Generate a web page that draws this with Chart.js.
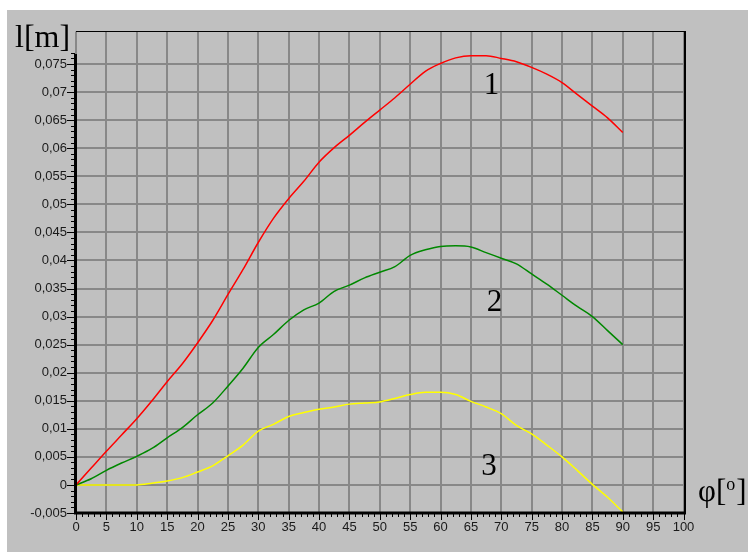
<!DOCTYPE html>
<html>
<head>
<meta charset="utf-8">
<script src="https://cdn.jsdelivr.net/npm/chart.js@4/dist/chart.umd.min.js"></script>
<style>
  html, body { margin: 0; padding: 0; background: #ffffff; }
  #chart { position: absolute; left: 7px; top: 10px; background: #c0c0c0; }
</style>
</head>
<body>
<canvas id="chart" width="741" height="542"></canvas>
<script>
// angle phi [deg], every 2.5 deg
const phi = [0, 2.5, 5, 7.5, 10, 12.5, 15, 17.5, 20, 22.5, 25, 27.5, 30, 32.5, 35, 37.5, 40, 42.5, 45, 47.5,
             50, 52.5, 55, 57.5, 60, 62.5, 65, 67.5, 70, 72.5, 75, 77.5, 80, 82.5, 85, 87.5, 90];
// l [m] for the three curves
const curve1 = [0, 0.0030, 0.0060, 0.0089, 0.0118, 0.0150, 0.0184, 0.0216, 0.0253, 0.0293, 0.0339, 0.0384, 0.0432, 0.0475, 0.0510, 0.0541, 0.0575, 0.0601, 0.0623, 0.0646,
                0.0668, 0.0690, 0.0714, 0.0737, 0.0751, 0.0761, 0.0765, 0.0765, 0.0760, 0.0754, 0.0744, 0.0732, 0.0717, 0.0696, 0.0675, 0.0654, 0.0628];
const curve2 = [0, 0.0011, 0.0026, 0.0039, 0.0051, 0.0065, 0.0084, 0.0102, 0.0125, 0.0146, 0.0176, 0.0208, 0.0245, 0.0268, 0.0293, 0.0312, 0.0324, 0.0345, 0.0356, 0.0369,
                0.0379, 0.0389, 0.0409, 0.0419, 0.0425, 0.0426, 0.0424, 0.0414, 0.0404, 0.0394, 0.0376, 0.0358, 0.0338, 0.0318, 0.0300, 0.0275, 0.0250];
const curve3 = [0, 0, 0, 0, 0, 0.0003, 0.0007, 0.0013, 0.0023, 0.0034, 0.0052, 0.0071, 0.0096, 0.0108, 0.0122, 0.0129, 0.0135, 0.0139, 0.0144, 0.0146,
                0.0148, 0.0154, 0.0161, 0.0165, 0.0165, 0.0161, 0.0149, 0.0139, 0.0127, 0.0106, 0.0091, 0.0071, 0.0050, 0.0026, 0.0001, -0.0022, -0.0048];

const yTicks = [-0.005, 0, 0.005, 0.01, 0.015, 0.02, 0.025, 0.03, 0.035, 0.04, 0.045, 0.05, 0.055, 0.06, 0.065, 0.07, 0.075];
const curveNames = ['1', '2', '3'];
const curveColors = ['#ff0000', '#008800', '#ffff00'];

const toPoints = (ys) => phi.map((x, i) => ({ x: x, y: ys[i] }));

const fmt = (v) => {
    const s = String(Number(v.toFixed(3)));
    return s === '-0' ? '0' : s.replace('.', ',');
};

// axis lines, minor ticks and the texts drawn straight on the canvas
const decor = {
    id: 'decor',
    afterDraw(chart) {
        const ctx = chart.ctx;
        const a = chart.chartArea;
        const xs = chart.scales.x;
        const ys = chart.scales.y;
        ctx.save();
        ctx.strokeStyle = '#000';

        // y ticks
        ctx.lineWidth = 1;
        for (let i = -5; i <= 77; i++) {
            const py = Math.round(ys.getPixelForValue(i / 1000)) + 0.5;
            const major = i % 5 === 0;
            ctx.beginPath();
            ctx.moveTo(a.left - (major ? 9 : 5), py);
            ctx.lineTo(a.left - 1, py);
            ctx.stroke();
        }
        // x ticks
        for (let i = 0; i <= 100; i++) {
            const px = Math.round(xs.getPixelForValue(i)) + 0.5;
            const major = i % 5 === 0;
            ctx.beginPath();
            ctx.moveTo(px, a.bottom + 1);
            ctx.lineTo(px, a.bottom + (major ? 7 : 4));
            ctx.stroke();
        }

        // frame
        ctx.lineWidth = 1;
        ctx.beginPath();
        ctx.moveTo(a.left, a.top);
        ctx.lineTo(a.right + 2.5, a.top);
        ctx.stroke();
        ctx.lineWidth = 2;
        ctx.beginPath();
        ctx.moveTo(a.right + 1.5, a.top);
        ctx.lineTo(a.right + 1.5, a.bottom);
        ctx.stroke();
        ctx.lineWidth = 3;
        ctx.beginPath();
        ctx.moveTo(a.left - 0.5, a.top + 22.5);
        ctx.lineTo(a.left - 0.5, a.bottom + 1);
        ctx.stroke();
        ctx.beginPath();
        ctx.moveTo(a.left - 2, a.bottom);
        ctx.lineTo(a.right + 2.5, a.bottom);
        ctx.stroke();

        // axis titles
        ctx.fillStyle = '#000';
        ctx.textBaseline = 'alphabetic';
        ctx.textAlign = 'left';
        ctx.font = '32px "Liberation Serif", "Times New Roman", serif';
        ctx.fillText('l[m]', 8, 37);

        ctx.font = '31px "Liberation Serif", "Times New Roman", serif';
        let tx = 691;
        ctx.fillText('φ[', tx, 491);
        tx += ctx.measureText('φ[').width;
        ctx.font = '18px "Liberation Serif", "Times New Roman", serif';
        ctx.fillText('o', tx, 480);
        tx += ctx.measureText('o').width + 1;
        ctx.font = '31px "Liberation Serif", "Times New Roman", serif';
        ctx.fillText(']', tx, 491);

        // curve numbers
        const marks = [[68.4, 0.0696], [68.9, 0.0310], [68.0, 0.0018]];
        ctx.font = '31px "Liberation Serif", "Times New Roman", serif';
        ctx.textAlign = 'center';
        curveNames.forEach((n, i) => {
            ctx.fillText(n, xs.getPixelForValue(marks[i][0]), ys.getPixelForValue(marks[i][1]));
        });
        ctx.restore();
    }
};

const ctx = document.getElementById('chart').getContext('2d');
new Chart(ctx, {
    type: 'line',
    data: {
        datasets: [curve1, curve2, curve3].map((ys, i) => ({
            label: curveNames[i],
            data: toPoints(ys),
            borderColor: curveColors[i],
            borderWidth: 1.5,
            pointRadius: 0,
            fill: false,
            cubicInterpolationMode: 'monotone',
        })),
    },
    options: {
        responsive: false,
        animation: false,
        devicePixelRatio: 1,
        layout: { padding: { left: 0, right: 64.5, top: 21.5, bottom: 9 } },
        plugins: { legend: { display: false }, tooltip: { enabled: false } },
        scales: {
            x: {
                type: 'linear',
                min: 0,
                max: 100,
                ticks: {
                    stepSize: 5,
                    padding: 7,
                    color: '#1a1a1a',
                    font: { family: '"Liberation Sans", Arial, sans-serif', size: 13 },
                    maxRotation: 0,
                    autoSkip: false,
                },
                grid: { color: '#888888', lineWidth: 2, drawTicks: false },
                border: { display: false },
                afterFit: (scale) => { scale.height = 30; },
            },
            y: {
                type: 'linear',
                min: -0.005,
                max: 0.0808,
                afterBuildTicks: (scale) => { scale.ticks = yTicks.map((v) => ({ value: v })); },
                ticks: {
                    padding: 9,
                    color: '#1a1a1a',
                    font: { family: '"Liberation Sans", Arial, sans-serif', size: 13 },
                    callback: (v) => fmt(v),
                },
                grid: { color: '#888888', lineWidth: 2, drawTicks: false },
                border: { display: false },
                afterFit: (scale) => { scale.width = 69; },
            },
        },
    },
    plugins: [decor],
});
</script>
</body>
</html>
